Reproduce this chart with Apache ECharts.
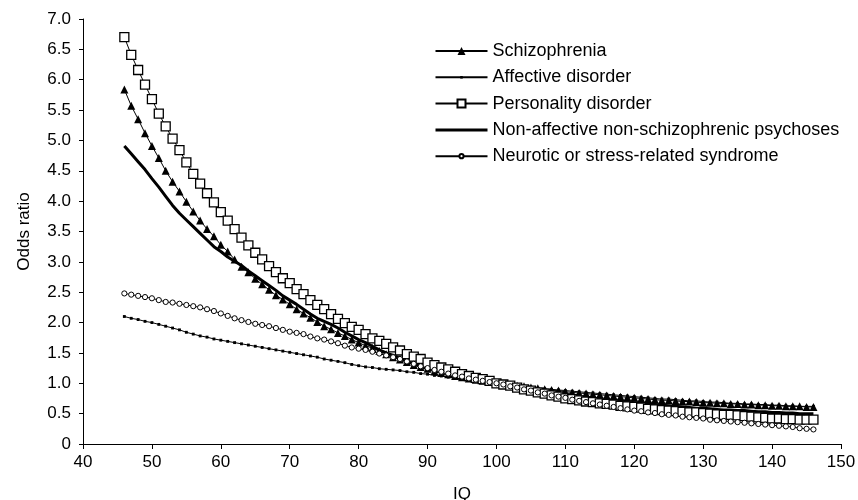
<!DOCTYPE html>
<html>
<head>
<meta charset="utf-8">
<script src="https://cdn.jsdelivr.net/npm/echarts@6/dist/echarts.min.js"></script>
<style>html,body{margin:0;padding:0;background:#fff}#c{width:858px;height:500px}</style>
</head>
<body>
<div id="c"></div>
<script>
const iq = [46,47,48,49,50,51,52,53,54,55,56,57,58,59,60,61,62,63,64,65,66,67,68,69,70,71,72,73,74,75,76,77,78,79,80,81,82,83,84,85,86,87,88,89,90,91,92,93,94,95,96,97,98,99,100,101,102,103,104,105,106,107,108,109,110,111,112,113,114,115,116,117,118,119,120,121,122,123,124,125,126,127,128,129,130,131,132,133,134,135,136,137,138,139,140,141,142,143,144,145,146];

const schizophrenia = [5.84,5.57,5.35,5.12,4.91,4.71,4.50,4.32,4.16,3.99,3.83,3.68,3.54,3.42,3.28,3.17,3.04,2.92,2.83,2.72,2.63,2.54,2.45,2.38,2.30,2.22,2.15,2.08,2.01,1.94,1.89,1.83,1.78,1.72,1.67,1.62,1.58,1.53,1.48,1.43,1.39,1.35,1.30,1.27,1.24,1.20,1.17,1.15,1.12,1.10,1.08,1.06,1.04,1.02,1.00,0.99,0.97,0.96,0.95,0.93,0.92,0.90,0.89,0.88,0.86,0.85,0.84,0.83,0.82,0.81,0.80,0.79,0.78,0.77,0.76,0.75,0.74,0.73,0.72,0.72,0.71,0.70,0.70,0.69,0.68,0.68,0.67,0.67,0.66,0.66,0.65,0.65,0.64,0.64,0.63,0.63,0.62,0.62,0.62,0.61,0.61];

const affective = [2.10,2.07,2.05,2.02,2.00,1.97,1.94,1.91,1.88,1.84,1.81,1.78,1.76,1.73,1.71,1.69,1.67,1.65,1.63,1.61,1.59,1.57,1.55,1.53,1.51,1.49,1.47,1.45,1.43,1.40,1.38,1.36,1.34,1.31,1.29,1.27,1.26,1.24,1.23,1.22,1.21,1.19,1.18,1.16,1.15,1.13,1.12,1.10,1.09,1.08,1.06,1.05,1.03,1.02,1.00,0.99,0.98,0.96,0.95,0.94,0.92,0.91,0.90,0.89,0.88,0.87,0.86,0.85,0.84,0.83,0.82,0.81,0.80,0.79,0.78,0.77,0.76,0.75,0.74,0.74,0.73,0.72,0.71,0.71,0.70,0.69,0.69,0.68,0.67,0.67,0.66,0.66,0.65,0.65,0.64,0.64,0.63,0.63,0.62,0.62,0.62];

const personality = [6.70,6.41,6.16,5.92,5.68,5.44,5.23,5.03,4.84,4.64,4.45,4.29,4.13,3.98,3.82,3.68,3.54,3.40,3.27,3.15,3.04,2.93,2.83,2.73,2.65,2.55,2.47,2.37,2.29,2.22,2.14,2.06,1.99,1.93,1.88,1.81,1.74,1.70,1.65,1.59,1.54,1.48,1.44,1.40,1.34,1.30,1.26,1.23,1.19,1.15,1.12,1.09,1.07,1.04,1.00,0.98,0.96,0.93,0.90,0.88,0.85,0.83,0.80,0.78,0.75,0.74,0.72,0.70,0.69,0.67,0.66,0.65,0.63,0.62,0.61,0.60,0.58,0.57,0.56,0.55,0.54,0.53,0.52,0.52,0.51,0.50,0.49,0.48,0.48,0.47,0.46,0.45,0.44,0.43,0.42,0.42,0.41,0.41,0.40,0.40,0.40];

const nonAffective = [4.91,4.78,4.65,4.52,4.37,4.23,4.08,3.93,3.80,3.69,3.58,3.47,3.36,3.25,3.17,3.08,3.01,2.94,2.85,2.77,2.69,2.61,2.53,2.44,2.37,2.30,2.22,2.14,2.07,2.02,1.97,1.91,1.84,1.78,1.72,1.67,1.61,1.55,1.50,1.46,1.41,1.36,1.32,1.28,1.24,1.21,1.18,1.15,1.12,1.10,1.08,1.06,1.04,1.02,1.00,0.98,0.96,0.94,0.92,0.90,0.88,0.86,0.85,0.83,0.81,0.80,0.78,0.77,0.75,0.74,0.73,0.71,0.70,0.69,0.68,0.67,0.66,0.65,0.64,0.63,0.62,0.61,0.60,0.59,0.59,0.58,0.57,0.56,0.56,0.55,0.55,0.54,0.53,0.53,0.52,0.52,0.51,0.51,0.50,0.50,0.50];

const neurotic = [2.48,2.46,2.44,2.42,2.40,2.37,2.34,2.33,2.31,2.29,2.27,2.25,2.22,2.19,2.15,2.11,2.07,2.04,2.01,1.98,1.96,1.94,1.91,1.88,1.85,1.83,1.81,1.77,1.74,1.72,1.69,1.66,1.62,1.59,1.57,1.55,1.52,1.49,1.46,1.43,1.40,1.36,1.32,1.28,1.25,1.22,1.19,1.16,1.13,1.11,1.08,1.06,1.04,1.02,1.00,0.98,0.95,0.93,0.90,0.88,0.85,0.83,0.80,0.78,0.76,0.73,0.71,0.69,0.67,0.65,0.63,0.61,0.59,0.57,0.55,0.54,0.52,0.51,0.49,0.48,0.47,0.45,0.44,0.43,0.42,0.40,0.39,0.38,0.37,0.36,0.35,0.34,0.33,0.32,0.31,0.30,0.29,0.28,0.26,0.25,0.24];

const seriesNames = ['Schizophrenia','Affective disorder','Personality disorder','Non-affective non-schizophrenic psychoses','Neurotic or stress-related syndrome'];
const yTicks = {min: 0, max: 7, interval: 0.5};
const xTicks = {min: 40, max: 150, interval: 10};

function pairs(vals){ return iq.map((x,i)=>[x, vals[i]]); }

// marker shapes: small glyph inside a 10x10 box so legend and plot scale alike
const DOT = 'path://M0 0M10 10M3.4 3.4H6.6V6.6H3.4Z';
const RING = 'path://M0 0M10 10M5 2.4A2.6 2.6 0 1 1 5 7.6A2.6 2.6 0 1 1 5 2.4Z';

const FONT = 'Liberation Sans, Arial, sans-serif';
const chart = echarts.init(document.getElementById('c'), null, {renderer:'canvas'});
chart.setOption({
  animation: false,
  backgroundColor: '#fff',
  textStyle: {fontFamily: FONT, color: '#000'},
  grid: {left: 83, right: 17, top: 19, bottom: 56, containLabel: false, outerBoundsMode: 'none'},
  legend: {
    orient: 'vertical', left: 434, top: 42, padding: 0,
    itemWidth: 52, itemHeight: 10, itemGap: 8.3,
    textStyle: {fontFamily: FONT, fontSize: 18, color: '#000'},
    data: [
      {name: seriesNames[0]},
      {name: seriesNames[1]},
      {name: seriesNames[2]},
      {name: seriesNames[3], itemStyle: {opacity: 0}, lineStyle: {width: 3, color: '#000'}},
      {name: seriesNames[4]}
    ]
  },
  xAxis: {
    type: 'value', min: xTicks.min, max: xTicks.max, interval: xTicks.interval,
    name: 'IQ', nameLocation: 'middle', nameGap: 42,
    nameTextStyle: {fontFamily: FONT, fontSize: 17, color: '#000'},
    axisLine: {lineStyle: {color: '#000', width: 1}},
    axisTick: {show: true, inside: false, length: 5, lineStyle: {color: '#000'}},
    axisLabel: {fontFamily: FONT, fontSize: 17, color: '#000', margin: 10},
    splitLine: {show: false}
  },
  yAxis: {
    type: 'value', min: yTicks.min, max: yTicks.max, interval: yTicks.interval,
    name: 'Odds ratio', nameLocation: 'middle', nameGap: 50, nameRotate: 90,
    nameTextStyle: {fontFamily: FONT, fontSize: 17, color: '#000'},
    axisLine: {show: true, lineStyle: {color: '#000', width: 1}},
    axisTick: {show: true, inside: false, length: 4, lineStyle: {color: '#000'}},
    axisLabel: {fontFamily: FONT, fontSize: 17, color: '#000', margin: 12,
      formatter: v => v === 0 ? '0' : v.toFixed(1)},
    splitLine: {show: false}
  },
  series: [
    {name: seriesNames[0], type: 'line', data: pairs(schizophrenia), showAllSymbol: true,
     symbol: 'triangle', symbolSize: 8, itemStyle: {color: '#000'},
     lineStyle: {color: '#000', width: 1}},
    {name: seriesNames[1], type: 'line', data: pairs(affective), showAllSymbol: true,
     symbol: DOT, symbolSize: 9, itemStyle: {color: '#000'},
     lineStyle: {color: '#000', width: 1}},
    {name: seriesNames[2], type: 'line', data: pairs(personality), showAllSymbol: true,
     symbol: 'rect', symbolSize: 9, itemStyle: {color: '#fff', borderColor: '#000', borderWidth: 1.3},
     lineStyle: {color: '#000', width: 1}},
    {name: seriesNames[3], type: 'line', data: pairs(nonAffective), showSymbol: false, symbol: 'none',
     itemStyle: {color: '#000'}, lineStyle: {color: '#000', width: 3}},
    {name: seriesNames[4], type: 'line', data: pairs(neurotic), showAllSymbol: true,
     symbol: RING, symbolSize: 10, itemStyle: {color: '#fff', borderColor: '#000', borderWidth: 1},
     lineStyle: {color: '#000', width: 1}}
  ]
});
</script>
</body>
</html>
